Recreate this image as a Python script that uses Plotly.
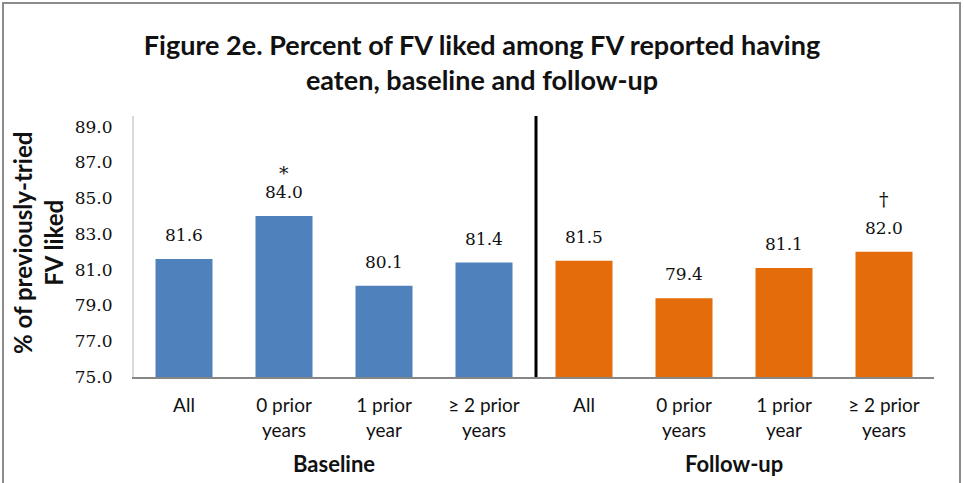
import plotly.graph_objects as go

# ---- data ----
categories = ["All", "0 prior<br>years", "1 prior<br>year", "\u2265 2 prior<br>years",
              "All", "0 prior<br>years", "1 prior<br>year", "\u2265 2 prior<br>years"]
baseline_values = [81.6, 84.0, 80.1, 81.4]
followup_values = [81.5, 79.4, 81.1, 82.0]
markers = ["", "*", "", "", "", "", "", "\u2020"]
groups = ["Baseline", "Follow-up"]
y_ticks = [75, 77, 79, 81, 83, 85, 87, 89]

W, H = 964, 483
L, R, T, B = 134, 964 - 934, 116, 483 - 377
PW, PH = W - L - R, H - T - B

def px_x(px):
    return (px - L) / PW

def px_y(py):
    return (H - B - py) / PH

xb = list(range(len(baseline_values)))
xf = list(range(len(baseline_values), len(baseline_values) + len(followup_values)))
values = baseline_values + followup_values

fig = go.Figure()
fig.add_trace(go.Bar(x=xb, y=baseline_values, width=0.57, marker_color="#4F81BD",
                     marker_line_width=0, showlegend=False, hoverinfo="y"))
fig.add_trace(go.Bar(x=xf, y=followup_values, width=0.57, marker_color="#E46C0A",
                     marker_line_width=0, showlegend=False, hoverinfo="y"))

ann = []
num_font = dict(family="DejaVu Serif", size=17, color="#111111")
for i, v in enumerate(values):
    ann.append(dict(x=i, y=v, xref="x", yref="y", text=f"{v:.1f}", showarrow=False,
                    yshift=24, font=num_font, yanchor="middle", xanchor="center"))
    if markers[i]:
        shift = 43 if markers[i] == "*" else 53
        ann.append(dict(x=i, y=v, xref="x", yref="y", text=markers[i], showarrow=False,
                        yshift=shift, font=dict(family="DejaVu Serif", size=19, color="#111111"),
                        yanchor="middle", xanchor="center"))

for gi, g in enumerate(groups):
    ann.append(dict(x=1.5 + 4 * gi, y=px_y(463), xref="x", yref="paper", text=g,
                    showarrow=False, yanchor="middle", xanchor="center",
                    font=dict(family="Lato", size=22, color="#111111", weight="bold")))

ann.append(dict(x=px_x(38), y=px_y(243), xref="paper", yref="paper",
                xanchor="center", yanchor="middle",
                text="% of previously-tried<br>FV liked", textangle=-90, showarrow=False,
                font=dict(family="Lato", size=24, color="#111111", weight="bold")))

shapes = [
    dict(type="line", xref="x", yref="y", x0=3.52, x1=3.52, y0=75, y1=89.6,
         line=dict(color="black", width=3)),
    dict(type="rect", xref="paper", yref="paper", x0=px_x(3), x1=px_x(960),
         y0=px_y(495), y1=px_y(3), line=dict(color="#8C8C8C", width=2)),
]

fig.update_layout(
    width=W, height=H,
    margin=dict(l=L, r=R, t=T, b=B),
    paper_bgcolor="white", plot_bgcolor="white",
    title=dict(text="Figure 2e. Percent of FV liked among FV reported having<br>eaten, baseline and follow-up",
               x=482 / W, xanchor="center", xref="container",
               y=1 - 55 / H, yref="container", yanchor="middle",
               font=dict(family="Lato", size=27, color="#111111", weight="bold")),
    xaxis=dict(range=[-0.5, 7.5], tickvals=list(range(8)), ticktext=categories,
               showgrid=False, zeroline=False, showline=True, linecolor="#868686",
               linewidth=2, ticks="", ticklabelstandoff=10,
               tickfont=dict(family="Lato", size=19, color="#111111")),
    yaxis=dict(range=[75, 89.6], tickvals=y_ticks, ticktext=[f"{t:.1f}" for t in y_ticks],
               showgrid=False, zeroline=False, showline=True, linecolor="#D9D9D9",
               linewidth=2, ticks="", ticklabelstandoff=16,
               tickfont=dict(family="DejaVu Serif", size=17, color="#111111")),
    annotations=ann,
    shapes=shapes,
    bargap=0.43,
)

fig.write_html("out.html", config={"displayModeBar": False},
               post_script="document.body.style.margin='0';")
